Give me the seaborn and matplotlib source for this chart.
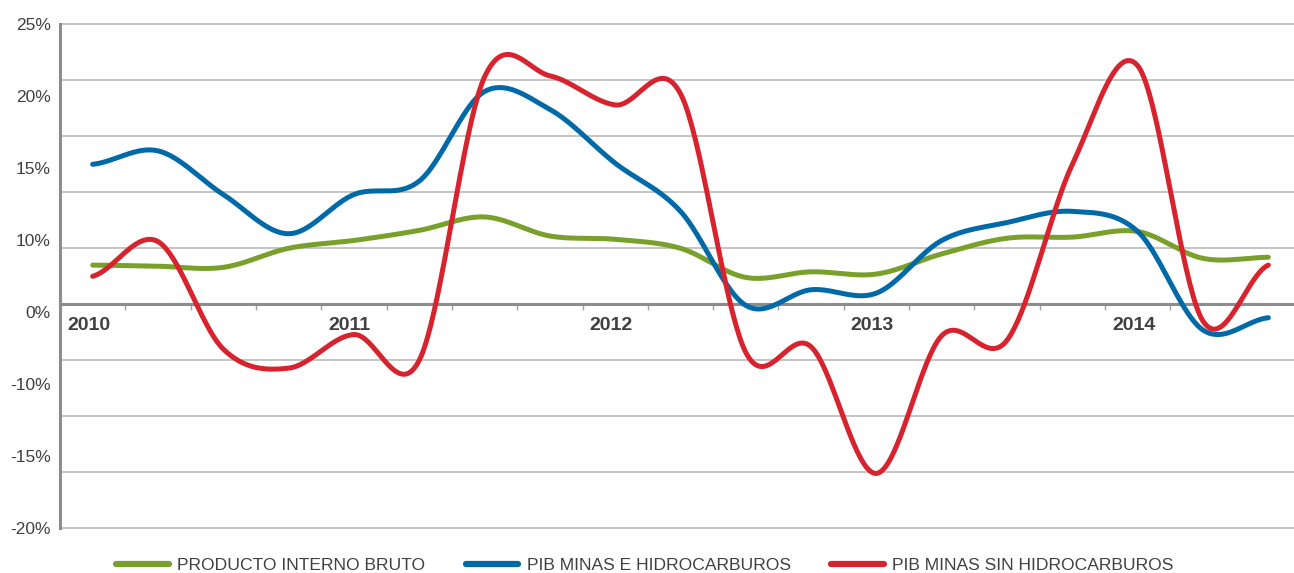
import numpy as np
import pandas as pd
import matplotlib
matplotlib.use("Agg")
import matplotlib.pyplot as plt
import matplotlib.transforms as mtransforms
from matplotlib.lines import Line2D
import seaborn as sns

# ---------------- data ----------------
quarters = ["2010-I", "2010-II", "2010-III", "2010-IV",
            "2011-I", "2011-II", "2011-III", "2011-IV",
            "2012-I", "2012-II", "2012-III", "2012-IV",
            "2013-I", "2013-II", "2013-III", "2013-IV",
            "2014-I", "2014-II", "2014-III"]
year_labels = ["2010", "2011", "2012", "2013", "2014"]

pib_total = [3.5, 3.4, 3.3, 5.0, 5.7, 6.6, 7.8, 6.1, 5.8, 5.0,
             2.4, 2.9, 2.7, 4.5, 5.9, 6.0, 6.5, 4.1, 4.2]
pib_minas_hidro = [12.5, 13.7, 9.8, 6.3, 9.8, 11.0, 19.0, 17.4, 12.6, 8.3,
                   -0.1, 1.3, 1.0, 5.7, 7.3, 8.3, 6.5, -2.3, -1.2]
pib_minas_sin = [2.5, 5.6, -4.0, -5.7, -2.7, -5.0, 20.3, 20.4, 17.8, 18.8,
                 -4.3, -3.8, -15.1, -2.8, -3.2, 12.5, 21.3, -1.5, 3.5]

series_names = ["PRODUCTO INTERNO BRUTO", "PIB MINAS E HIDROCARBUROS",
                "PIB MINAS SIN HIDROCARBUROS"]
series_values = [pib_total, pib_minas_hidro, pib_minas_sin]
series_colors = ["#79A02B", "#0069A7", "#D7232E"]

ytick_labels = ["25%", "20%", "15%", "10%", "0%", "-10%", "-15%", "-20%"]


def smooth(vals, n=40):
    """Catmull-Rom style smoothing (like spreadsheet 'smoothed line')."""
    p = np.asarray(vals, float)
    ext = np.concatenate([[p[0]], p, [p[-1]]])
    xs, ys = [], []
    for i in range(len(p) - 1):
        p0, p1, p2, p3 = ext[i:i + 4]
        m1 = (p2 - p0) / 2.0
        m2 = (p3 - p1) / 2.0
        t = np.linspace(0, 1, n, endpoint=(i == len(p) - 2))
        h00 = 2 * t**3 - 3 * t**2 + 1
        h10 = t**3 - 2 * t**2 + t
        h01 = -2 * t**3 + 3 * t**2
        h11 = t**3 - t**2
        xs.append(i + t)
        ys.append(h00 * p1 + h10 * m1 + h01 * p2 + h11 * m2)
    return np.concatenate(xs), np.concatenate(ys)


rows = []
for name, vals in zip(series_names, series_values):
    sx, sy = smooth(vals)
    rows.append(pd.DataFrame({"x": sx, "y": sy, "serie": name}))
df = pd.concat(rows, ignore_index=True)

# ---------------- figure ----------------
sns.set_theme(style="white")
plt.rcParams["font.family"] = ["Liberation Sans", "DejaVu Sans"]

W, H = 1294, 573
fig = plt.figure(figsize=(W / 100, H / 100), dpi=100)
ymin, ymax, extra = -20, 25, 0.2
px_per_unit = 504 / (ymax - ymin)
ax = fig.add_axes([60 / W, (H - 528.3 - extra * px_per_unit) / H,
                   1241 / W, (504 + 2 * extra * px_per_unit) / H])

sns.lineplot(data=df, x="x", y="y", hue="serie", hue_order=series_names,
             palette=series_colors, estimator=None, sort=False,
             linewidth=3.6, legend=False, ax=ax)
for ln in ax.lines:
    ln.set_solid_capstyle("round")
    ln.set_zorder(5)

n = len(quarters)
ax.set_xlim(-0.5, n - 0.5)
ax.set_ylim(ymin - extra, ymax + extra)

# horizontal grid every 5 %
ax.yaxis.remove_overlapping_locs = False
ax.set_yticks(np.arange(ymin, ymax + 1, 5), minor=True)
ax.grid(which="minor", axis="y", color="#C4C4C4", linewidth=1.4)
ax.grid(which="major", visible=False)

# y labels (evenly spread as in the original)
ax.set_yticks(np.linspace(ymax, ymin, len(ytick_labels)))
ax.set_yticklabels(ytick_labels)
ax.tick_params(axis="y", which="both", length=0, pad=6.5,
               labelsize=12.5, labelcolor="#404040")

# x axis on zero line
ax.spines["bottom"].set_position(("data", 0))
ax.spines["bottom"].set_color("#8C8C8C")
ax.spines["bottom"].set_linewidth(2.2)
ax.spines["bottom"].set_zorder(3)
ax.spines["left"].set_color("#8C8C8C")
ax.spines["left"].set_linewidth(2.2)
ax.spines["left"].set_bounds(ymin, ymax)
ax.spines["top"].set_visible(False)
ax.spines["right"].set_visible(False)

ax.set_xticks(np.arange(0.5, n - 0.5, 1))
ax.set_xticklabels([])
ax.tick_params(axis="x", which="major", direction="out", length=4,
               width=1, color="#A0A0A0", bottom=True)
year_pos = [quarters.index(y + "-I") for y in year_labels]
ax.set_xticks(year_pos, minor=True)
ax.set_xticklabels(year_labels, minor=True)
ax.tick_params(axis="x", which="minor", length=0, pad=9.5, labelsize=14,
               labelcolor="#404040")
shift = mtransforms.ScaledTranslation(-4 / 100, 0, fig.dpi_scale_trans)
for lbl in ax.get_xticklabels(minor=True):
    lbl.set_fontweight("bold")
    lbl.set_transform(lbl.get_transform() + shift)

ax.set_xlabel("")
ax.set_ylabel("")

handles = [Line2D([0], [0], color=c, lw=4.5, solid_capstyle="round")
           for c in series_colors]
leg = fig.legend(handles, series_names, loc="center", ncol=3,
                 bbox_to_anchor=(645 / W, 1 - 565 / H), frameon=False,
                 fontsize=12.6, handlelength=3.0, handletextpad=0.5,
                 columnspacing=2.3, borderpad=0, borderaxespad=0)
for t in leg.get_texts():
    t.set_color("#404040")

fig.savefig("out.png", dpi=100)
